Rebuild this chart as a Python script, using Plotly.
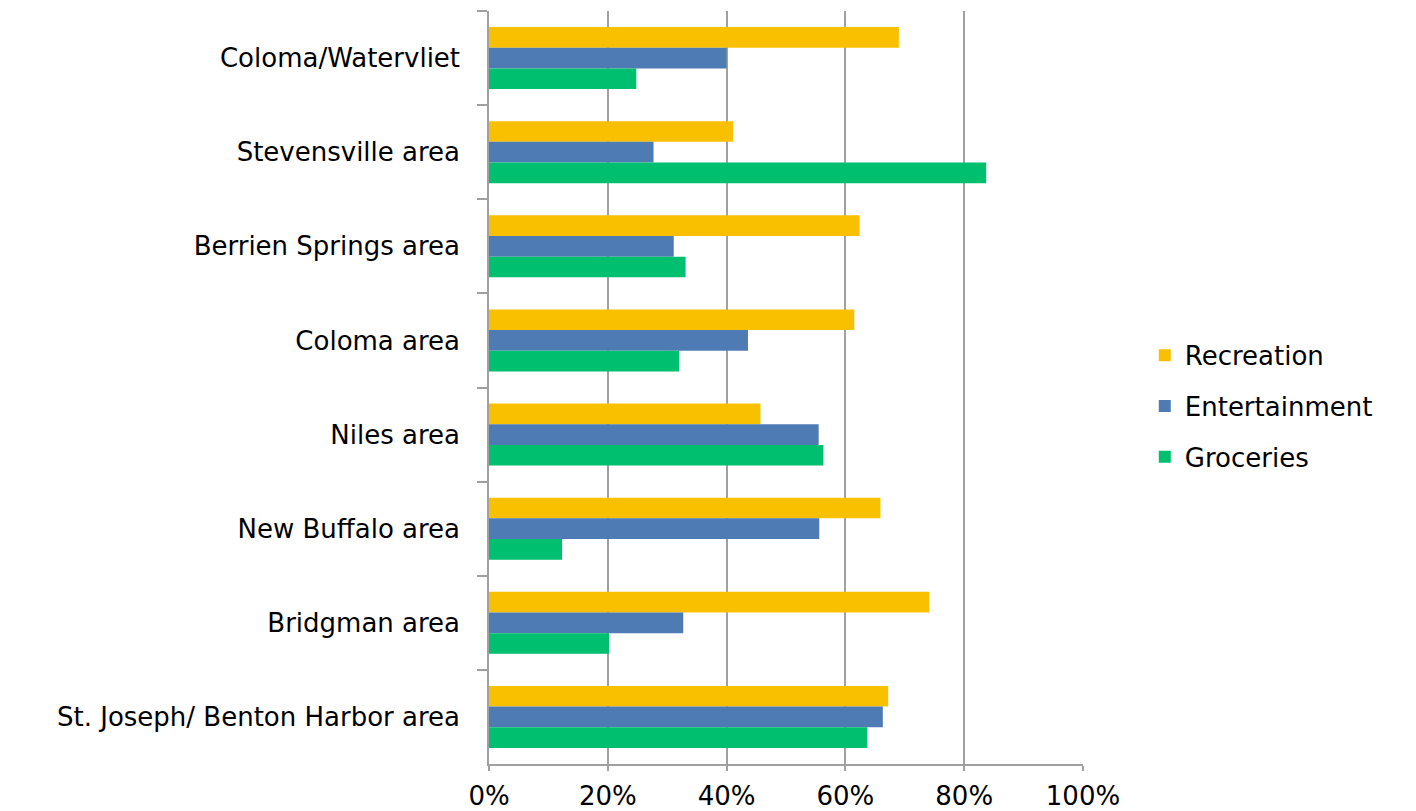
import plotly.graph_objects as go

categories = [
    "Coloma/Watervliet",
    "Stevensville area",
    "Berrien Springs area",
    "Coloma area",
    "Niles area",
    "New Buffalo area",
    "Bridgman area",
    "St. Joseph/ Benton Harbor area",
]
recreation = [69.0, 41.1, 62.4, 61.5, 45.7, 65.9, 74.1, 67.2]
entertainment = [40.0, 27.7, 31.1, 43.6, 55.5, 55.6, 32.7, 66.3]
groceries = [24.8, 83.7, 33.1, 32.0, 56.3, 12.3, 20.2, 63.7]
x_ticks = [0, 20, 40, 60, 80, 100]
x_tick_labels = ["0%", "20%", "40%", "60%", "80%", "100%"]

series = [
    ("Recreation", recreation, "#F9C000"),
    ("Entertainment", entertainment, "#4F7BB5"),
    ("Groceries", groceries, "#00BF6F"),
]

FONT = "DejaVu Sans"
FS = 26

fig = go.Figure()
for name, vals, color in series:
    fig.add_trace(go.Bar(
        y=categories, x=vals, name=name, orientation="h", legendgroup=name,
        marker=dict(color=color, line=dict(width=0)),
    ))

fig.update_layout(
    width=1416, height=811,
    barmode="group", bargap=0.34, bargroupgap=0,
    plot_bgcolor="white", paper_bgcolor="white",
    margin=dict(l=481, r=341, t=3, b=55),
    font=dict(family=FONT, size=FS, color="#000000"),
    legend=dict(
        x=1.104, y=0.475, xanchor="left", yanchor="middle",
        font=dict(family=FONT, size=FS, color="#000000"),
        itemwidth=30, tracegroupgap=14,
    ),
    showlegend=True,
)
fig.update_xaxes(
    range=[0, 100], tickvals=x_ticks, ticktext=x_tick_labels,
    showgrid=True, gridcolor="#A0A0A0", gridwidth=1.5,
    showline=True, linecolor="#A0A0A0", linewidth=1.5,
    ticks="outside", ticklen=5, tickcolor="#A0A0A0", tickwidth=1.5,
    ticklabelstandoff=3,
    tickfont=dict(family=FONT, size=FS, color="#000000"),
    zeroline=False, fixedrange=True, automargin=False,
)
fig.update_yaxes(
    categoryorder="array", categoryarray=categories, autorange="reversed",
    showline=True, linecolor="#A0A0A0", linewidth=1.5,
    ticks="outside", tickson="boundaries", ticklen=10, tickcolor="#A0A0A0", tickwidth=1.5,
    ticklabelstandoff=22,
    tickfont=dict(family=FONT, size=FS, color="#000000"),
    showgrid=False, zeroline=False, fixedrange=True, automargin=False,
)

fig.write_html("out.html")
